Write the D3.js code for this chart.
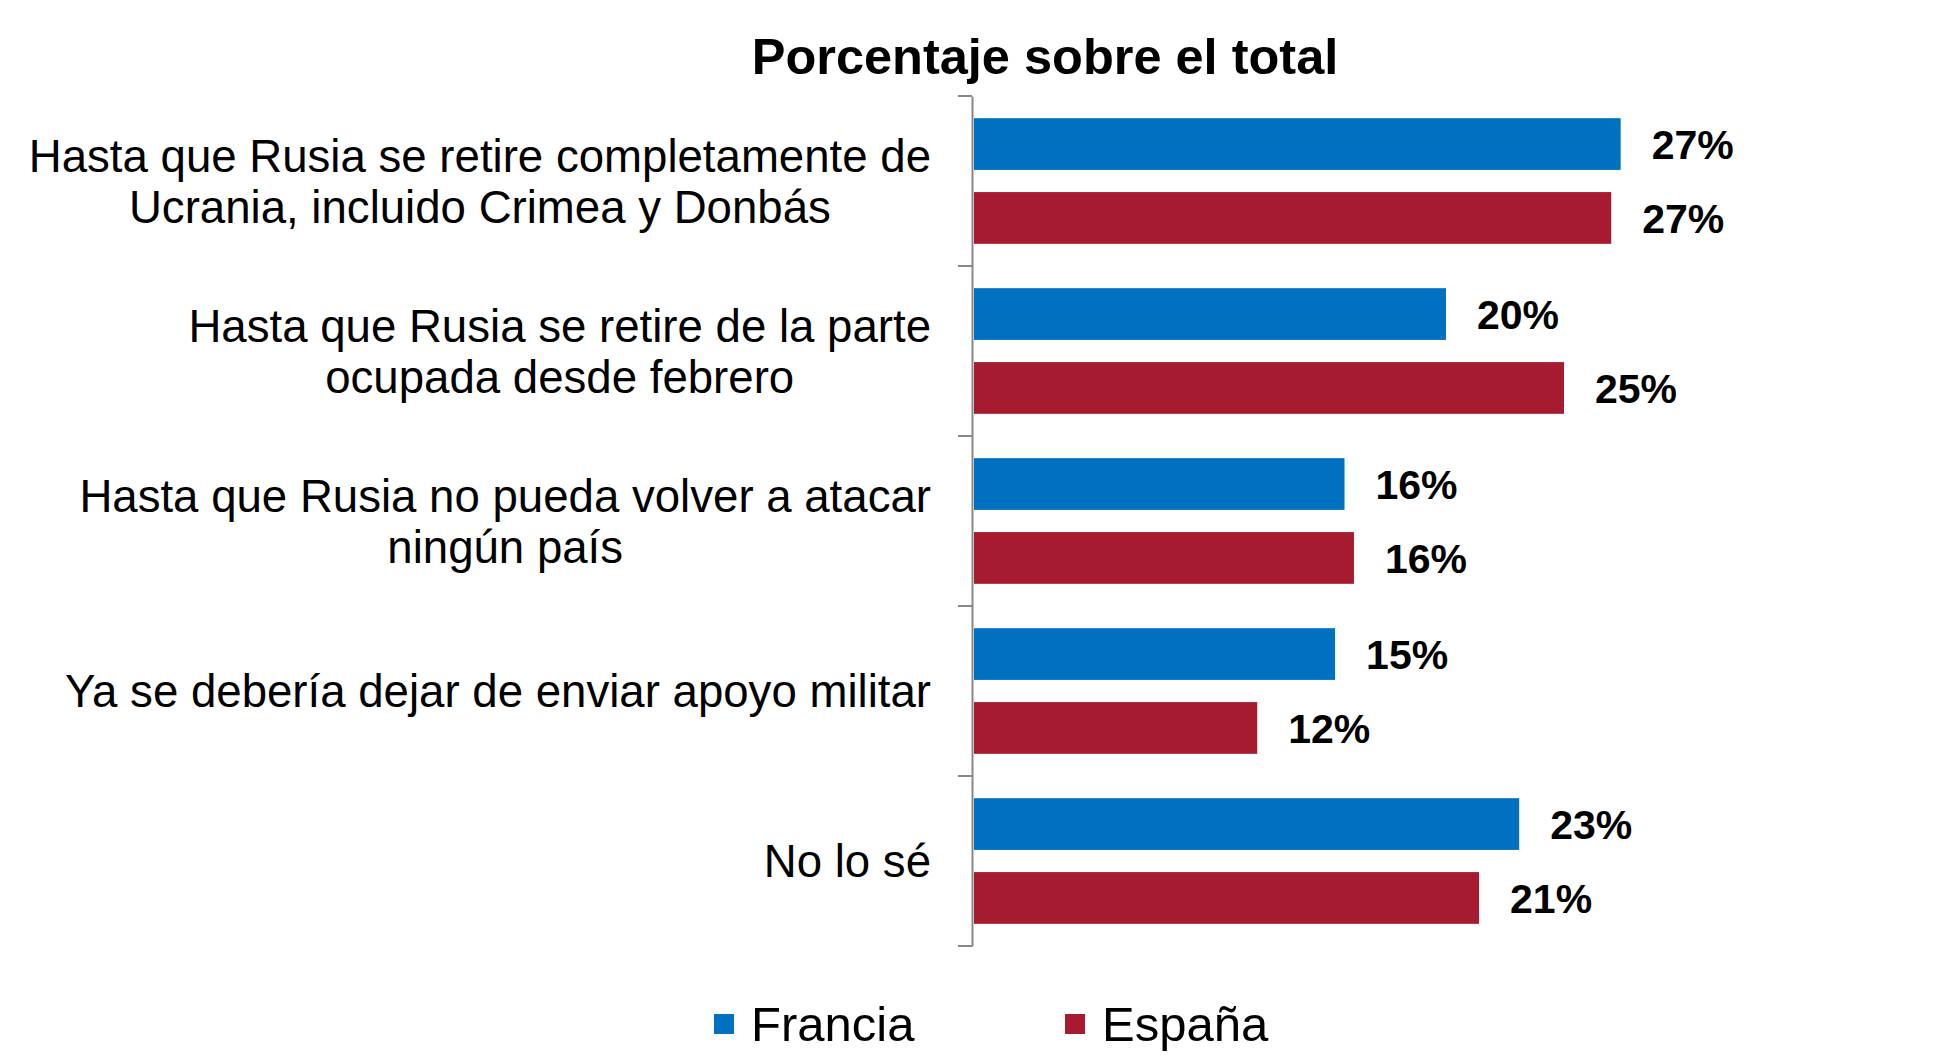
<!DOCTYPE html>
<html>
<head>
<meta charset="utf-8">
<script src="https://cdn.jsdelivr.net/npm/d3@7"></script>
<style>
  body { margin: 0; background: #fff; }
  svg { display: block; font-family: "Liberation Sans", Arial, sans-serif; }
</style>
</head>
<body>
<div id="container"></div>
<script>
/* DATA */
const categories = [
  "Hasta que Rusia se retire completamente de\nUcrania, incluido Crimea y Donbás",
  "Hasta que Rusia se retire de la parte\nocupada desde febrero",
  "Hasta que Rusia no pueda volver a atacar\nningún país",
  "Ya se debería dejar de enviar apoyo militar",
  "No lo sé"
];
const seriesNames = ["Francia", "España"];
const francia = [27.4, 20.0, 15.7, 15.3, 23.1];
const espana = [27.0, 25.0, 16.1, 12.0, 21.4];
const seriesColors = ["#0071c1", "#a61b30"];
const title = "Porcentaje sobre el total";

/* CONSTANTS */
const width = 1939;
const height = 1055;
const axisX = 972;

const rows = categories.map((c, i) => ({ cat: c, Francia: francia[i], "España": espana[i] }));

/* SCALES */
const yScale = d3.scaleBand()
  .domain(categories)
  .range([96, 946])
  .padding(0);

const ySeries = d3.scaleBand()
  .domain(seriesNames)
  .range([0, yScale.bandwidth()])
  .paddingInner(0.3)
  .paddingOuter(0.3);

const xScale = d3.scaleLinear()
  .domain([0, 30])
  .range([axisX + 2, axisX + 2 + 30 * 23.6]);

const color = d3.scaleOrdinal().domain(seriesNames).range(seriesColors);

/* SVG */
const svg = d3.select("#container")
  .append("svg")
  .attr("width", width)
  .attr("height", height);

// title
svg.append("text")
  .attr("x", 1045)
  .attr("y", 74)
  .attr("text-anchor", "middle")
  .attr("font-size", 50.5)
  .attr("font-weight", "bold")
  .text(title);

// bars
const groups = svg.selectAll("g.cat")
  .data(rows)
  .join("g")
  .attr("class", "cat")
  .attr("transform", d => `translate(0, ${yScale(d.cat)})`);

groups.selectAll("rect")
  .data(d => seriesNames.map(s => ({ s, v: d[s] })))
  .join("rect")
  .attr("x", xScale(0))
  .attr("y", d => ySeries(d.s))
  .attr("width", d => xScale(d.v) - xScale(0))
  .attr("height", ySeries.bandwidth())
  .attr("fill", d => color(d.s));

groups.selectAll("text.val")
  .data(d => seriesNames.map(s => ({ s, v: d[s] })))
  .join("text")
  .attr("class", "val")
  .attr("x", d => xScale(d.v) + 31)
  .attr("y", d => ySeries(d.s) + ySeries.bandwidth() / 2)
  .attr("dy", "0.36em")
  .attr("font-size", 41)
  .attr("font-weight", "bold")
  .text(d => Math.round(d.v) + "%");

// axis
const axisG = svg.append("g")
  .attr("transform", `translate(${axisX}, 0)`)
  .call(d3.axisLeft(yScale).tickSize(0).tickFormat(""));
axisG.select(".domain").attr("stroke", "#888").attr("stroke-width", 2);

const tickPos = categories.map(c => yScale(c)).concat([yScale(categories[categories.length - 1]) + yScale.bandwidth()]);
axisG.selectAll("line.bt")
  .data(tickPos)
  .join("line")
  .attr("class", "bt")
  .attr("x1", -14)
  .attr("x2", 0)
  .attr("y1", d => d)
  .attr("y2", d => d)
  .attr("stroke", "#888")
  .attr("stroke-width", 2);

// category labels
const labelRight = 931;
const lineH = 51;
categories.forEach(c => {
  const lines = c.split("\n");
  const g = svg.append("g");
  const texts = g.selectAll("text")
    .data(lines)
    .join("text")
    .attr("font-size", 45.6)
    .attr("text-anchor", "middle")
    .text(d => d);
  const maxW = d3.max(texts.nodes(), n => n.getComputedTextLength());
  const cy = yScale(c) + yScale.bandwidth() / 2;
  texts
    .attr("x", labelRight - maxW / 2)
    .attr("y", (d, i) => cy + (i - (lines.length - 1) / 2) * lineH)
    .attr("dy", "0.36em");
});

// legend
const legendX = [714, 1065];
const legend = svg.selectAll("g.legend")
  .data(seriesNames)
  .join("g")
  .attr("class", "legend")
  .attr("transform", (d, i) => `translate(${legendX[i]}, 1014)`);
legend.append("rect")
  .attr("width", 20)
  .attr("height", 20)
  .attr("fill", d => color(d));
legend.append("text")
  .attr("x", 37)
  .attr("y", 27)
  .attr("font-size", 49)
  .text(d => d);
</script>
</body>
</html>
